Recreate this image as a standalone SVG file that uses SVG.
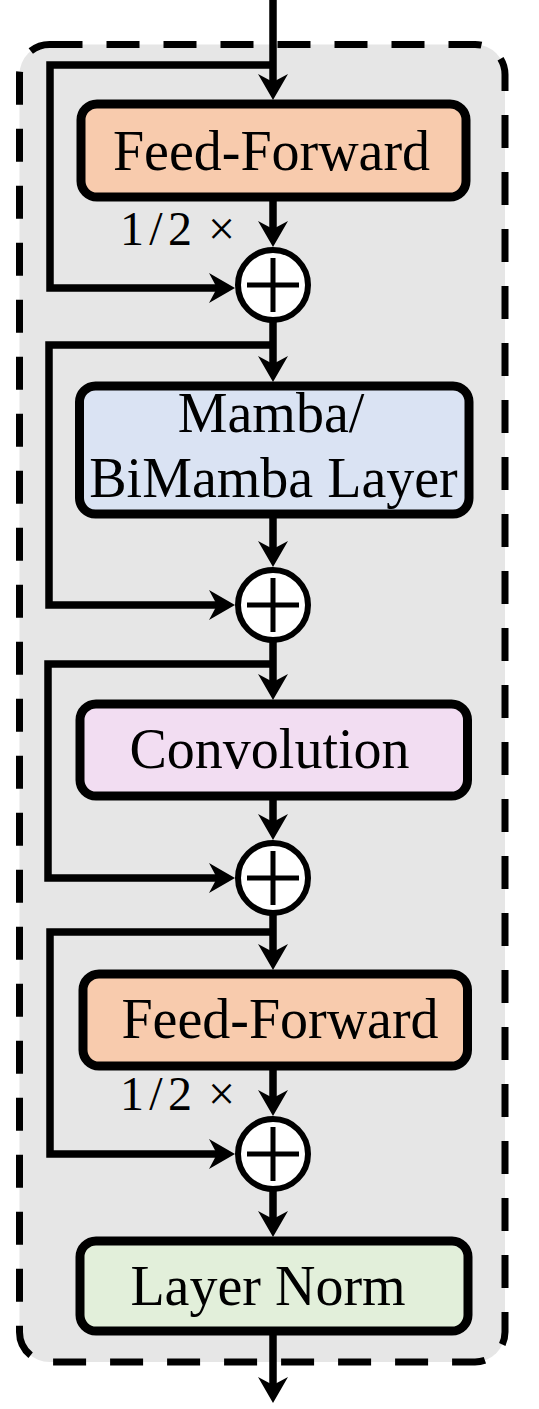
<svg xmlns="http://www.w3.org/2000/svg" width="539" height="1409" viewBox="0 0 539 1409">
<style>
.box{stroke:#000;stroke-width:9}
.lbl{font-family:"Liberation Serif","Times New Roman",serif;font-size:56px;fill:#000;text-anchor:middle}
.scale{font-family:"Liberation Serif","Times New Roman",serif;font-size:48px;fill:#000}
.wire{fill:none;stroke:#000;stroke-width:7.5}
.sum{fill:#fff;stroke:#000;stroke-width:6}
.plus{stroke:#000;stroke-width:5}
</style>
<defs>
<marker id="ah" viewBox="0 0 26 30" refX="14" refY="15" markerWidth="26" markerHeight="30" markerUnits="userSpaceOnUse" orient="auto">
<path d="M0,0 L26,15 L0,30 L8,15 Z" fill="#000"/>
</marker>
</defs>
<rect id="container" x="19.5" y="44.5" width="485.5" height="1317.5" rx="30" fill="#e6e6e6" stroke="#000" stroke-width="7" stroke-dasharray="33 24"/>
<g id="connectors" class="wire" marker-end="url(#ah)">
<path d="M273,0 V88"/>
<path d="M273,65 H50 V288 H223"/>
<path d="M273,197 V235"/>
<path d="M273,322 V370"/>
<path d="M273,345 H49 V605 H223"/>
<path d="M273,518 V555"/>
<path d="M273,642 V688"/>
<path d="M273,664 H48 V878 H223"/>
<path d="M273,800 V828"/>
<path d="M273,915 V958"/>
<path d="M273,932 H50 V1154 H223"/>
<path d="M273,1070 V1104"/>
<path d="M273,1191 V1225"/>
<path d="M273,1335 V1391"/>
</g>
<g id="ff1">
<rect class="box" x="81" y="104" width="385" height="93" rx="16" fill="#f8cbad"/>
<text class="lbl" x="271.5" y="170">Feed-Forward</text>
</g>
<g id="half1"><text class="scale" y="245"><tspan x="120" textLength="72">1/2</tspan><tspan x="208">×</tspan></text></g>
<g id="sum1">
<circle class="sum" cx="273" cy="285" r="35"/>
<path class="plus" d="M247,285 H299 M273,258 V312"/>
</g>
<g id="mamba">
<rect class="box" x="79.5" y="386" width="389.5" height="128" rx="16" fill="#dae3f3"/>
<text class="lbl" x="271" y="432">Mamba/</text>
<text class="lbl" x="273.5" y="497">BiMamba Layer</text>
</g>
<g id="sum2">
<circle class="sum" cx="273" cy="605" r="35"/>
<path class="plus" d="M247,605 H299 M273,578 V632"/>
</g>
<g id="conv">
<rect class="box" x="80" y="704" width="387.5" height="92" rx="16" fill="#f2ddf2"/>
<text class="lbl" x="269.5" y="768">Convolution</text>
</g>
<g id="sum3">
<circle class="sum" cx="273" cy="878" r="35"/>
<path class="plus" d="M247,878 H299 M273,851 V905"/>
</g>
<g id="ff2">
<rect class="box" x="83" y="974" width="384.5" height="92" rx="16" fill="#f8cbad"/>
<text class="lbl" x="280" y="1038">Feed-Forward</text>
</g>
<g id="half2"><text class="scale" y="1110"><tspan x="120" textLength="72">1/2</tspan><tspan x="208">×</tspan></text></g>
<g id="sum4">
<circle class="sum" cx="273" cy="1154" r="35"/>
<path class="plus" d="M247,1154 H299 M273,1127 V1181"/>
</g>
<g id="layernorm">
<rect class="box" x="80" y="1241" width="388" height="90" rx="16" fill="#e2efda"/>
<text class="lbl" x="268" y="1305">Layer Norm</text>
</g>
</svg>
